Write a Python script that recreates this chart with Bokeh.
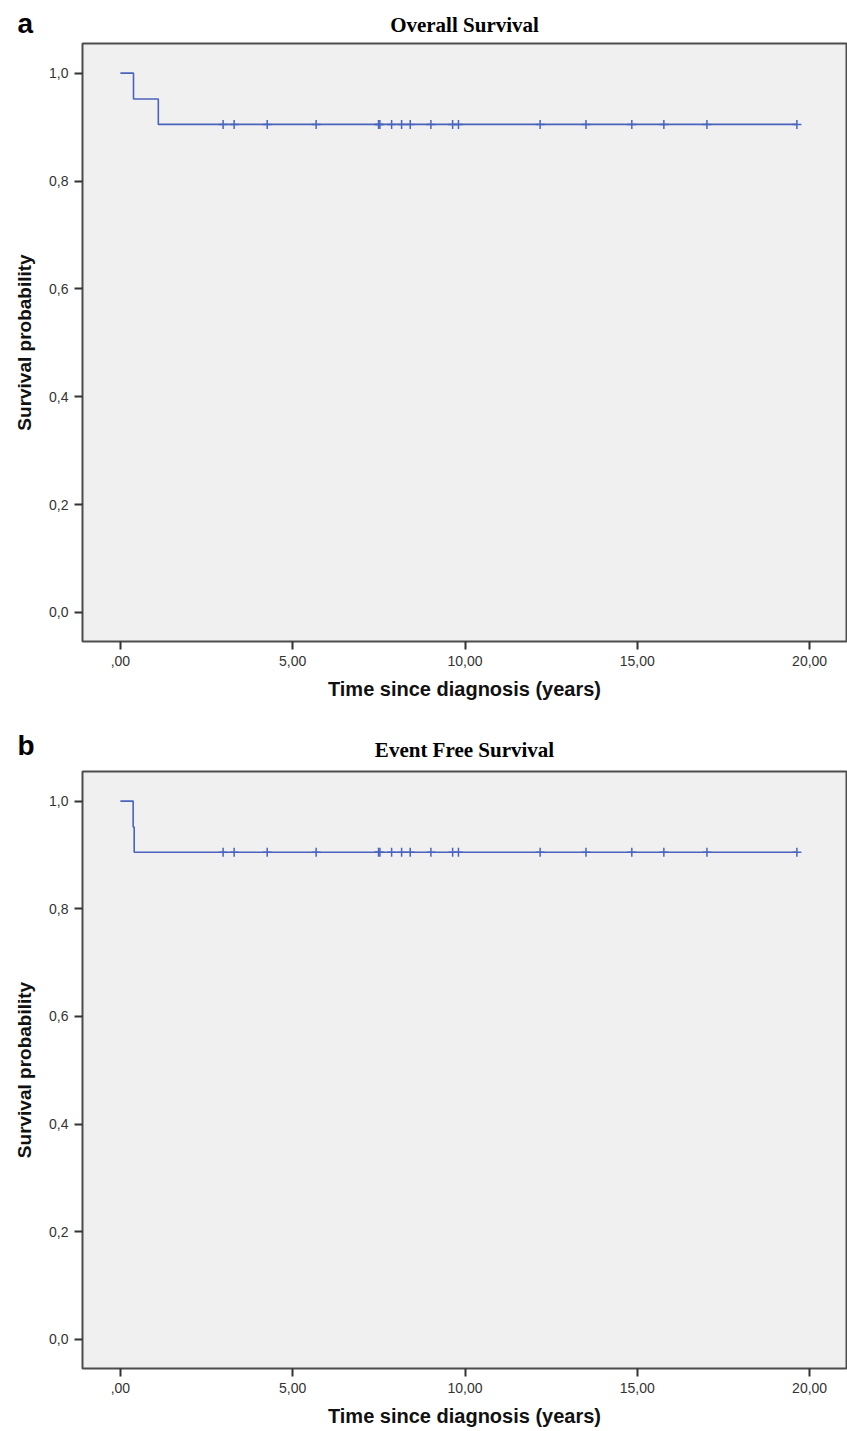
from bokeh.plotting import figure
from bokeh.models import FixedTicker, Label, Range1d
from bokeh.layouts import column
from bokeh.embed import file_html
from bokeh.resources import INLINE

# ---- data ----
os_times = [0.0, 0.38, 1.10]
os_surv = [1.0, 0.952, 0.905]
efs_times = [0.0, 0.37, 0.40]
efs_surv = [1.0, 0.952, 0.905]
censor_times = [2.98, 3.30, 4.26, 5.68, 7.49, 7.53, 7.87, 8.16, 8.41, 9.01,
                9.64, 9.81, 12.18, 13.51, 14.84, 15.77, 17.02, 19.63]
censor_level = 0.905

x_ticks = [0, 5, 10, 15, 20]
x_tick_labels = [",00", "5,00", "10,00", "15,00", "20,00"]
y_ticks = [0.0, 0.2, 0.4, 0.6, 0.8, 1.0]
y_tick_labels = ["0,0", "0,2", "0,4", "0,6", "0,8", "1,0"]

x_label = "Time since diagnosis (years)"
y_label = "Survival probability"

XR = (-1.10, 21.07)
YR = (-0.054, 1.055)
LINE = "#4a64bd"
FONT = "Liberation Sans"
W = 847


def header(letter, title, h, letter_base, title_base):
    hp = figure(width=W, height=h, x_range=Range1d(0, W), y_range=Range1d(h, 0),
                output_backend="svg", toolbar_location=None,
                x_axis_location=None, y_axis_location=None,
                min_border=0, min_border_left=0, min_border_right=0,
                min_border_top=0, min_border_bottom=0)
    hp.frame_align = False
    hp.grid.visible = False
    hp.outline_line_color = None
    hp.background_fill_color = "white"
    hp.add_layout(Label(x=17, y=letter_base, text=letter,
                        text_font=FONT, text_font_style="bold",
                        text_font_size="28px", text_align="left",
                        text_baseline="alphabetic", text_color="black"))
    hp.add_layout(Label(x=464, y=title_base, text=title,
                        text_font="Liberation Serif", text_font_style="bold",
                        text_font_size="21px", text_align="center",
                        text_baseline="alphabetic", text_color="black"))
    return hp


def panel(times, surv, height, b_bottom):
    p = figure(width=W, height=height, x_range=XR, y_range=YR,
               output_backend="svg", toolbar_location=None,
               min_border_left=82, min_border_right=1,
               min_border_top=1, min_border_bottom=b_bottom)
    p.background_fill_color = "#f0f0f0"
    p.border_fill_color = "white"
    p.grid.visible = False
    p.outline_line_color = "#4d4d4d"
    p.outline_line_width = 2

    for ax in (p.xaxis[0], p.yaxis[0]):
        ax.axis_line_color = None
        ax.major_tick_line_color = "#333333"
        ax.major_tick_line_width = 2
        ax.major_tick_out = 8
        ax.major_tick_in = 0
        ax.minor_tick_line_color = None
        ax.major_label_text_font = FONT
        ax.major_label_text_font_size = "14px"
        ax.major_label_text_color = "#333333"
        ax.major_label_standoff = 6
        ax.axis_label_text_font = FONT
        ax.axis_label_text_font_style = "bold"
        ax.axis_label_text_color = "#111111"

    p.xaxis.ticker = FixedTicker(ticks=x_ticks)
    p.xaxis.major_label_overrides = {t: l for t, l in zip(x_ticks, x_tick_labels)}
    p.yaxis.ticker = FixedTicker(ticks=y_ticks)
    p.yaxis.major_label_overrides = {t: l for t, l in zip(y_ticks, y_tick_labels)}
    p.xaxis.axis_label = x_label
    p.xaxis.axis_label_text_font_size = "20px"
    p.xaxis.axis_label_standoff = 9
    p.yaxis.axis_label = y_label
    p.yaxis.axis_label_text_font_size = "19px"
    p.yaxis.axis_label_standoff = 11

    st = list(times) + [censor_times[-1]]
    ss = list(surv) + [surv[-1]]
    p.step(st, ss, mode="after", line_color=LINE, line_width=1.6)
    p.scatter(censor_times, [censor_level] * len(censor_times), marker="cross",
              size=9, line_color=LINE, line_width=1.5)
    return p


h1 = header("a", "Overall Survival", 42, 23, 24)
p1 = panel(os_times, os_surv, 673, 74)
h2 = header("b", "Event Free Survival", 55, 30, 34)
p2 = panel(efs_times, efs_surv, 659, 60)

layout = column(h1, p1, h2, p2, spacing=0)
open("out.html", "w").write(file_html(layout, INLINE))
